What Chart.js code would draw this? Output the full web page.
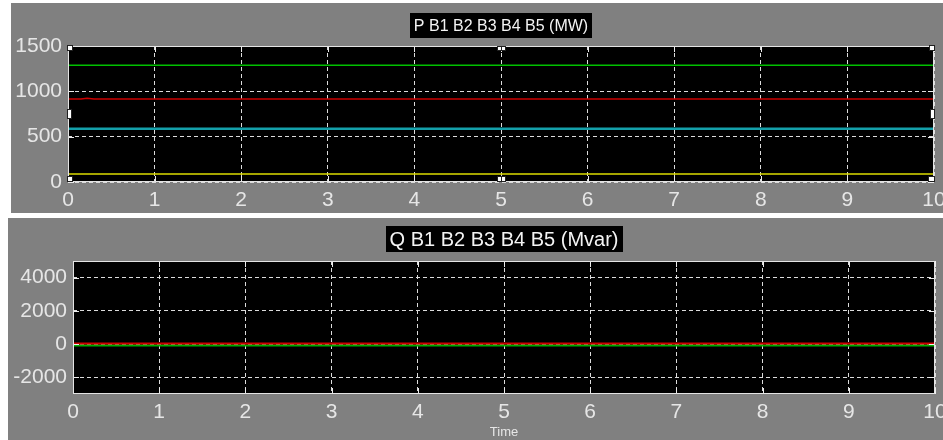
<!DOCTYPE html>
<html>
<head>
<meta charset="utf-8">
<script src="https://cdn.jsdelivr.net/npm/chart.js@4.4.1/dist/chart.umd.min.js"></script>
<style>
  html, body { margin: 0; padding: 0; background: #ffffff; width: 943px; height: 440px; overflow: hidden; }
  .panel { position: absolute; background: #808080; }
  #panelP { left: 11px; top: 3px; width: 932px; height: 210px; }
  #panelQ { left: 8px; top: 218px; width: 935px; height: 222px; }
  canvas { display: block; }
</style>
</head>
<body>
<div class="panel" id="panelP"><canvas id="chartP" width="932" height="210"></canvas></div>
<div class="panel" id="panelQ"><canvas id="chartQ" width="935" height="222"></canvas></div>
<script>
// Simulation time samples (s)
const timeP = [0, 0.15, 0.22, 0.3, 10];
const timeQ = [0, 10];

// Active power per bus (MW)
const pB1 = [88, 88, 88, 88, 88];
const pB3 = [588, 588, 588, 588, 588];
const pB4 = [915, 915, 925, 915, 915];
const pB5 = [1287, 1287, 1287, 1287, 1287];

// Reactive power per bus (Mvar)
const qB4 = [40, 40];
const qB5 = [-80, -80];

// Axis ticks
const timeTicks = [0, 1, 2, 3, 4, 5, 6, 7, 8, 9, 10];
const pTicks = [0, 500, 1000, 1500];
const qTicks = [-2000, 0, 2000, 4000];

const pTitle = 'P B1 B2 B3 B4 B5 (MW)';
const qTitle = 'Q B1 B2 B3 B4 B5 (Mvar)';
const xTitle = 'Time';

Chart.defaults.devicePixelRatio = 1;
Chart.defaults.font.family = '"Liberation Sans", Arial, sans-serif';

const pts = (xs, ys) => xs.map((x, i) => ({ x: x, y: ys[i] }));
const plain = v => String(v);

// Scope look: black plotting area, frame, inner tick marks, title box and selection handles
const scopePlugin = {
  id: 'scope',
  beforeDraw(chart) {
    const a = chart.chartArea, ctx = chart.ctx;
    ctx.save();
    ctx.fillStyle = '#000000';
    ctx.fillRect(a.left, a.top, a.right - a.left, a.bottom - a.top);
    ctx.restore();
  },
  afterDraw(chart, args, opts) {
    const a = chart.chartArea, ctx = chart.ctx;
    const xs = chart.scales.x, ys = chart.scales.y;
    ctx.save();
    // inner tick marks
    ctx.strokeStyle = '#ececec';
    ctx.lineWidth = 1;
    ctx.beginPath();
    xs.ticks.forEach(t => {
      const px = Math.round(xs.getPixelForValue(t.value)) + 0.5;
      ctx.moveTo(px, a.top); ctx.lineTo(px, a.top + 6);
      ctx.moveTo(px, a.bottom); ctx.lineTo(px, a.bottom - 6);
    });
    ys.ticks.forEach(t => {
      const py = Math.round(ys.getPixelForValue(t.value)) + 0.5;
      ctx.moveTo(a.left, py); ctx.lineTo(a.left + 6, py);
      ctx.moveTo(a.right, py); ctx.lineTo(a.right - 6, py);
    });
    ctx.stroke();
    // frame
    ctx.strokeStyle = '#e4e4e4';
    ctx.strokeRect(Math.round(a.left) + 0.5, Math.round(a.top) + 0.5,
                   Math.round(a.right - a.left) - 1, Math.round(a.bottom - a.top) - 1);
    // title box
    ctx.font = opts.titleSize + 'px "Liberation Sans", Arial, sans-serif';
    const tw = ctx.measureText(opts.title).width;
    const cx = (a.left + a.right) / 2;
    const bw = tw + opts.titlePad * 2;
    ctx.fillStyle = '#000000';
    ctx.fillRect(Math.round(cx - bw / 2), opts.titleTop, Math.round(bw), opts.titleHeight);
    ctx.fillStyle = '#f4f4f4';
    ctx.textAlign = 'center';
    ctx.textBaseline = 'middle';
    ctx.fillText(opts.title, cx, opts.titleTop + opts.titleHeight / 2 + 1);
    // selection handles
    if (opts.handles) {
      const hx = [a.left, cx, a.right], hy = [a.top, (a.top + a.bottom) / 2, a.bottom];
      const handle = (x, y, w, h) => {
        ctx.fillStyle = '#202020';
        ctx.fillRect(Math.round(x - w / 2) - 1, Math.round(y - h / 2) - 1, w + 2, h + 2);
        ctx.fillStyle = '#ffffff';
        ctx.fillRect(Math.round(x - w / 2), Math.round(y - h / 2), w, h);
      };
      handle(hx[0] + 2, hy[0] + 2, 4, 4);
      handle(hx[2] - 2, hy[0] + 2, 4, 4);
      handle(hx[0] + 2, hy[2] - 3, 4, 4);
      handle(hx[2] - 3, hy[2] - 3, 5, 4);
      handle(hx[1] - 2, hy[0] + 2, 3, 3);
      handle(hx[1] + 2, hy[0] + 2, 3, 3);
      handle(hx[1] - 2, hy[2] - 3, 3, 4);
      handle(hx[1] + 2, hy[2] - 3, 3, 4);
      handle(hx[0] + 1, hy[1], 3, 8);
      handle(hx[2] - 2, hy[1], 3, 8);
    }
    ctx.restore();
  }
};

function buildOptions(cfg) {
  return {
    responsive: false,
    animation: false,
    events: [],
    layout: { padding: { top: cfg.padTop, right: cfg.padRight, bottom: 0, left: 0 } },
    plugins: {
      legend: { display: false },
      tooltip: { enabled: false },
      title: { display: false },
      scope: cfg.scope
    },
    elements: { point: { radius: 0 }, line: { tension: 0 } },
    scales: {
      x: {
        type: 'linear',
        min: 0, max: 10,
        afterBuildTicks: s => { s.ticks = timeTicks.map(v => ({ value: v })); },
        afterFit: s => { s.height = cfg.xHeight; s.paddingLeft = 0; s.paddingRight = 0; },
        grid: { color: '#dcdcdc', lineWidth: 1, drawTicks: false },
        border: { display: false, dash: [4, 3] },
        ticks: { color: '#e6e6e6', padding: 6, maxRotation: 0, autoSkip: false,
                 font: { size: 21 }, callback: plain },
        title: cfg.xTitle ? { display: true, text: cfg.xTitle, color: '#e6e6e6',
                 font: { size: 13 }, padding: { top: 0, bottom: 0 } } : { display: false }
      },
      y: {
        min: cfg.yMin, max: cfg.yMax,
        afterBuildTicks: s => { s.ticks = cfg.yTicks.map(v => ({ value: v })); },
        afterFit: s => { s.width = cfg.yWidth; s.paddingTop = 0; s.paddingBottom = 0; },
        grid: { color: '#dcdcdc', lineWidth: 1, drawTicks: false },
        border: { display: false, dash: [4, 3] },
        ticks: { color: '#e6e6e6', padding: 6, font: { size: 21 }, callback: plain }
      }
    }
  };
}

const optP = buildOptions({
  padTop: 43, padRight: 9, xHeight: 31, yWidth: 57,
  yMin: 0, yMax: 1500, yTicks: pTicks,
  scope: { title: pTitle, titleSize: 16, titlePad: 4, titleTop: 10, titleHeight: 25, handles: true }
});

new Chart(document.getElementById('chartP'), {
  type: 'line',
  data: {
    datasets: [
      { label: 'B1', data: pts(timeP, pB1), borderColor: '#dcdc00', borderWidth: 1.5 },
      { label: 'B3', data: pts(timeP, pB3), borderColor: '#14a0aa', borderWidth: 2.5 },
      { label: 'B4', data: pts(timeP, pB4), borderColor: '#cc0000', borderWidth: 1.5 },
      { label: 'B5', data: pts(timeP, pB5), borderColor: '#00c000', borderWidth: 1.5 }
    ]
  },
  options: optP,
  plugins: [scopePlugin]
});

const optQ = buildOptions({
  padTop: 43, padRight: 8, xHeight: 46, yWidth: 65,
  yMin: -3000, yMax: 5000, yTicks: qTicks, xTitle: xTitle,
  scope: { title: qTitle, titleSize: 20, titlePad: 4, titleTop: 8, titleHeight: 26, handles: false }
});

new Chart(document.getElementById('chartQ'), {
  type: 'line',
  data: {
    datasets: [
      { label: 'B4', data: pts(timeQ, qB4), borderColor: '#d00000', borderWidth: 2 },
      { label: 'B5', data: pts(timeQ, qB5), borderColor: '#00b000', borderWidth: 2 }
    ]
  },
  options: optQ,
  plugins: [scopePlugin]
});
</script>
</body>
</html>
